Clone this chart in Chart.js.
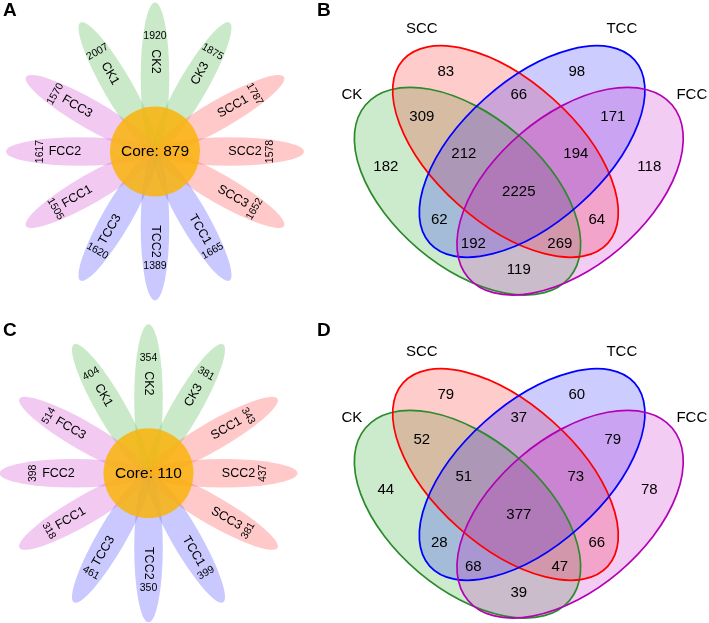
<!DOCTYPE html>
<html>
<head>
<meta charset="utf-8">
<script src="https://cdn.jsdelivr.net/npm/chart.js@4.4.1/dist/chart.umd.min.js"></script>
<style>
    body { margin: 0; background: #fff; }
    #fig { position: relative; width: 709px; height: 623px; overflow: hidden; font-family: "Liberation Sans", Arial, sans-serif; }
    #fig canvas { position: absolute; }
    .tag { position: absolute; font-weight: bold; font-size: 19px; line-height: 19px; color: #000; }
</style>
</head>
<body>
<div id="fig">
    <canvas id="flower-a" width="310" height="310" style="left:0;top:0"></canvas>
    <canvas id="venn-b" width="399" height="310" style="left:310px;top:0"></canvas>
    <canvas id="flower-c" width="310" height="313" style="left:0;top:310px"></canvas>
    <canvas id="venn-d" width="399" height="313" style="left:310px;top:310px"></canvas>
    <div class="tag" style="left:3px;top:0">A</div>
    <div class="tag" style="left:317px;top:0">B</div>
    <div class="tag" style="left:3px;top:320px">C</div>
    <div class="tag" style="left:317px;top:320px">D</div>
</div>
<script>
// ---- data ----
const samples = ["CK1", "CK2", "CK3", "SCC1", "SCC2", "SCC3", "TCC1", "TCC2", "TCC3", "FCC1", "FCC2", "FCC3"];
const countsA = [2007, 1920, 1875, 1787, 1578, 1652, 1665, 1389, 1620, 1505, 1617, 1570];
const countsC = [404, 354, 381, 343, 437, 381, 399, 350, 461, 318, 398, 514];
const coreA = 879;
const coreC = 110;

const groups = ["CK", "SCC", "TCC", "FCC"];
const regions = ["SCC", "TCC", "SCC+TCC", "CK+SCC", "TCC+FCC", "CK", "CK+SCC+TCC", "SCC+TCC+FCC",
                 "FCC", "CK+SCC+TCC+FCC", "CK+TCC", "SCC+FCC", "CK+TCC+FCC", "CK+SCC+FCC", "CK+FCC"];
const vennB = [83, 98, 66, 309, 171, 182, 212, 194, 118, 2225, 62, 64, 192, 269, 119];
const vennD = [79, 60, 37, 52, 79, 44, 51, 73, 78, 377, 28, 66, 68, 47, 39];

// ---- layout (px units) ----
const PETAL_START = 120, PETAL_STEP = -30;
const PETAL_LEN = 74.5, PETAL_W = 14.3, CORE_R = 45;
const LABEL_R = 90, NUM_R = 115;

// cx, cy, semi-major, semi-minor, angle (deg, counter-clockwise)
const vennShapes = {
    CK:  [-51.3, -21.2, 133.6, 75.8, -40.2],
    SCC: [-13.3, 18.5, 137.4, 71, -41.8],
    TCC: [13.3, 18.5, 137.4, 71, 41.8],
    FCC: [51.3, -21.2, 133.6, 75.8, 40.2],
};
const regionPos = [[-73, 98], [58, 98], [0, 75], [-97, 53], [94, 53], [-133, 3], [-55, 16.5], [57, 16.5],
                   [130.5, 3], [0, -22], [-79.5, -50], [78, -50], [-45.5, -74], [41, -74], [0, -100]];
const groupPos = [[-167, 75], [-97, 141], [103, 141], [173, 75]];

// ---- styles ----
const FONT = '"Liberation Sans", Arial, sans-serif';
const petalColors = { CK: "rgba(120,200,120,0.4)", SCC: "rgba(255,120,120,0.4)", TCC: "rgba(120,120,255,0.4)", FCC: "rgba(220,120,220,0.4)" };
const CORE_COLOR = "rgba(250,180,10,0.85)";
const vennFill = { CK: "rgba(0,150,0,0.2)", SCC: "rgba(255,0,0,0.2)", TCC: "rgba(0,0,255,0.2)", FCC: "rgba(190,0,190,0.2)" };
const vennLine = { CK: "#2b8a2b", SCC: "#ff0000", TCC: "#0000ff", FCC: "#b400b4" };

function groupOf(name) {
    return name.replace(/\d+$/, "");
}

function petalAngle(i) {
    return (PETAL_START + PETAL_STEP * i) * Math.PI / 180;
}

// fold an angle (deg) so text never reads upside down
function upright(d, topIncluded) {
    d = ((d % 180) + 180) % 180;
    if (topIncluded ? d > 90 : d >= 90) d -= 180;
    return d;
}

function drawText(ctx, str, px, py, deg, font) {
    ctx.save();
    ctx.translate(px, py);
    ctx.rotate(deg * Math.PI / 180);
    ctx.font = font;
    ctx.fillStyle = "#000";
    ctx.textAlign = "center";
    ctx.textBaseline = "middle";
    ctx.fillText(str, 0, 0);
    ctx.restore();
}

const flowerPlugin = {
    id: "flower",
    beforeDatasetsDraw(chart) {
        const { ctx, scales: { x, y } } = chart;
        const k = x.getPixelForValue(1) - x.getPixelForValue(0);
        samples.forEach((s, i) => {
            const t = petalAngle(i);
            ctx.save();
            ctx.fillStyle = petalColors[groupOf(s)];
            ctx.beginPath();
            ctx.ellipse(x.getPixelForValue(PETAL_LEN * Math.cos(t)), y.getPixelForValue(PETAL_LEN * Math.sin(t)),
                        PETAL_LEN * k, PETAL_W * k, -t, 0, 2 * Math.PI);
            ctx.fill();
            ctx.restore();
        });
        ctx.save();
        ctx.fillStyle = CORE_COLOR;
        ctx.beginPath();
        ctx.arc(x.getPixelForValue(0), y.getPixelForValue(0), CORE_R * k, 0, 2 * Math.PI);
        ctx.fill();
        ctx.restore();
    },
    afterDatasetsDraw(chart, args, opts) {
        const ctx = chart.ctx;
        const labels = chart.getDatasetMeta(0).data;
        const nums = chart.getDatasetMeta(1).data;
        const core = chart.getDatasetMeta(2).data[0];
        samples.forEach((s, i) => {
            const rot = upright(-petalAngle(i) * 180 / Math.PI, true);
            drawText(ctx, s, labels[i].x, labels[i].y, rot, "12.5px " + FONT);
            drawText(ctx, String(opts.counts[i]), nums[i].x, nums[i].y, upright(rot - 90, false), "10.5px " + FONT);
        });
        drawText(ctx, "Core: " + opts.core, core.x, core.y, 0, "15.5px " + FONT);
    }
};

const vennPlugin = {
    id: "venn",
    beforeDatasetsDraw(chart) {
        const { ctx, scales: { x, y } } = chart;
        const k = x.getPixelForValue(1) - x.getPixelForValue(0);
        const path = (g) => {
            const [cx, cy, a, b, ang] = vennShapes[g];
            ctx.beginPath();
            ctx.ellipse(x.getPixelForValue(cx), y.getPixelForValue(cy), a * k, b * k, -ang * Math.PI / 180, 0, 2 * Math.PI);
        };
        ctx.save();
        groups.forEach(g => {
            path(g);
            ctx.fillStyle = vennFill[g];
            ctx.fill();
        });
        ctx.lineWidth = 1.7;
        groups.forEach(g => {
            path(g);
            ctx.strokeStyle = vennLine[g];
            ctx.stroke();
        });
        ctx.restore();
    },
    afterDatasetsDraw(chart, args, opts) {
        const ctx = chart.ctx;
        chart.getDatasetMeta(0).data.forEach((pt, i) => {
            drawText(ctx, String(opts.counts[i]), pt.x, pt.y, 0, "15px " + FONT);
        });
        chart.getDatasetMeta(1).data.forEach((pt, i) => {
            drawText(ctx, groups[i], pt.x, pt.y, 0, "15px " + FONT);
        });
    }
};

function baseOptions(xr, yr) {
    return {
        responsive: false,
        animation: false,
        devicePixelRatio: 1,
        events: [],
        layout: { padding: 0 },
        plugins: { legend: { display: false }, tooltip: { enabled: false } },
        scales: {
            x: { type: "linear", min: xr[0], max: xr[1], display: false },
            y: { type: "linear", min: yr[0], max: yr[1], display: false }
        }
    };
}

function flowerChart(id, counts, core, xr, yr) {
    const polar = (r) => samples.map((s, i) => ({ x: r * Math.cos(petalAngle(i)), y: r * Math.sin(petalAngle(i)) }));
    const options = baseOptions(xr, yr);
    options.plugins.flower = { counts, core };
    return new Chart(document.getElementById(id), {
        type: "scatter",
        data: {
            datasets: [
                { data: polar(LABEL_R), pointRadius: 0 },
                { data: polar(NUM_R), pointRadius: 0 },
                { data: [{ x: 0, y: 0 }], pointRadius: 0 }
            ]
        },
        options,
        plugins: [flowerPlugin]
    });
}

function vennChart(id, counts, xr, yr) {
    const options = baseOptions(xr, yr);
    options.plugins.venn = { counts };
    return new Chart(document.getElementById(id), {
        type: "scatter",
        data: {
            datasets: [
                { data: regionPos.map(p => ({ x: p[0], y: p[1] })), pointRadius: 0 },
                { data: groupPos.map(p => ({ x: p[0], y: p[1] })), pointRadius: 0 }
            ]
        },
        options,
        plugins: [vennPlugin]
    });
}

flowerChart("flower-a", countsA, coreA, [-155, 155], [-158.5, 151.5]);
vennChart("venn-b", vennB, [-208.8, 190.2], [-140, 170]);
flowerChart("flower-c", countsC, coreC, [-148.5, 161.5], [-149.7, 163.3]);
vennChart("venn-d", vennD, [-208.8, 190.2], [-130, 183]);
</script>
</body>
</html>
